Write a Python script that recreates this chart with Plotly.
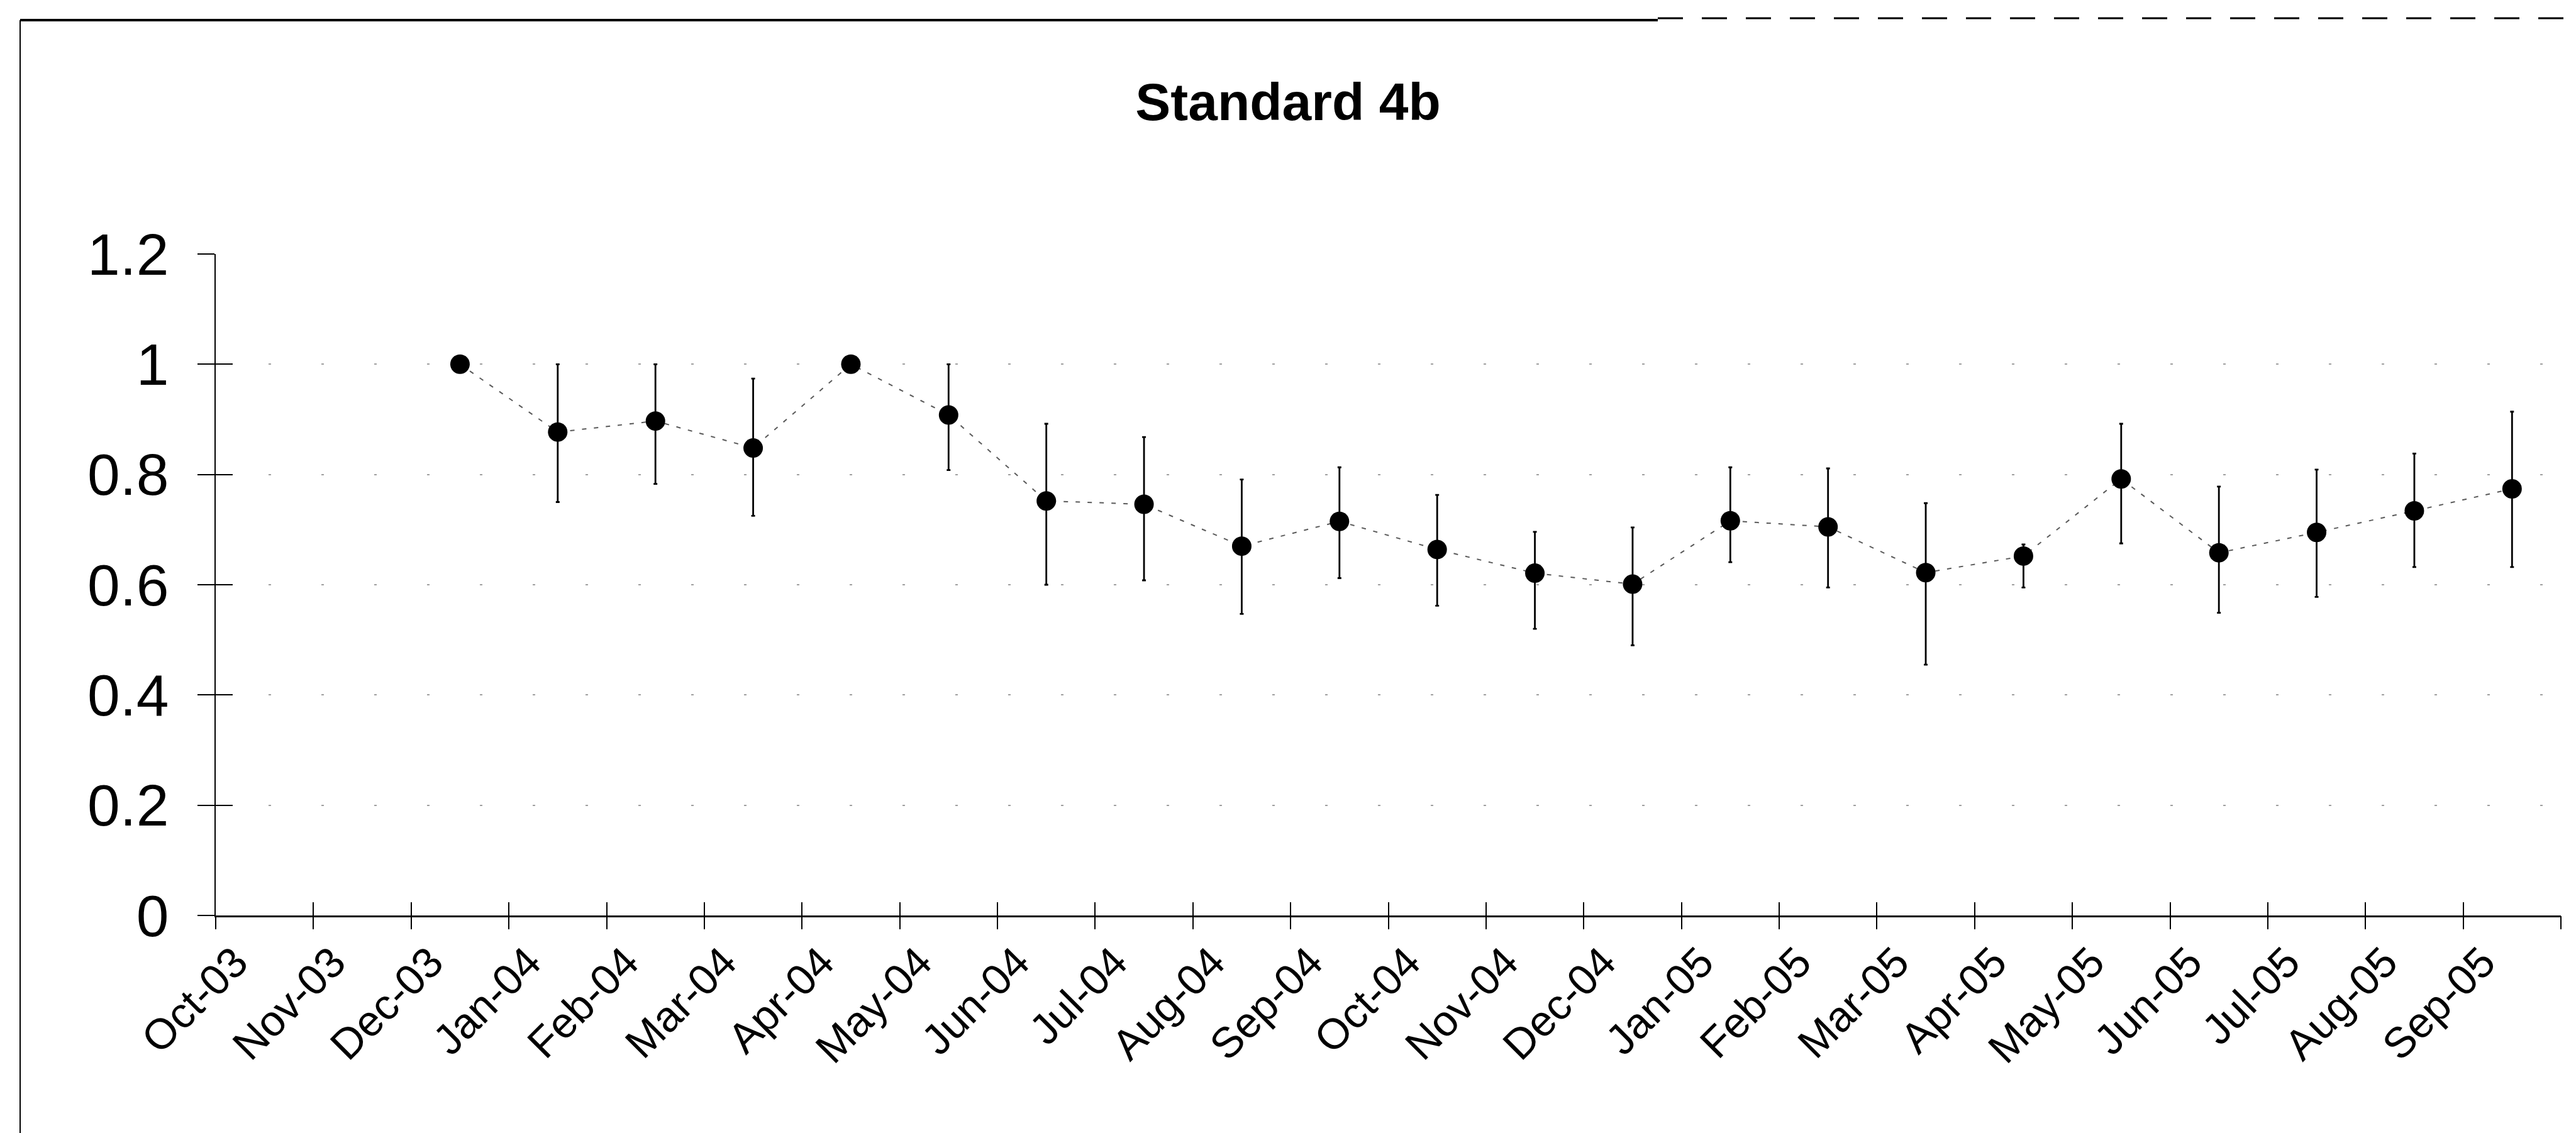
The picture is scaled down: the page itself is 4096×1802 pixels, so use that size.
import plotly.graph_objects as go

# Month categories on the x axis (tick marks sit on the month boundaries)
months = ["Oct-03", "Nov-03", "Dec-03", "Jan-04", "Feb-04", "Mar-04", "Apr-04",
          "May-04", "Jun-04", "Jul-04", "Aug-04", "Sep-04", "Oct-04", "Nov-04",
          "Dec-04", "Jan-05", "Feb-05", "Mar-05", "Apr-05", "May-05", "Jun-05",
          "Jul-05", "Aug-05", "Sep-05"]

# Months with a measurement
sample_months = ["Dec-03", "Jan-04", "Feb-04", "Mar-04", "Apr-04", "May-04",
                 "Jun-04", "Jul-04", "Aug-04", "Sep-04", "Oct-04", "Nov-04",
                 "Dec-04", "Jan-05", "Feb-05", "Mar-05", "Apr-05", "May-05",
                 "Jun-05", "Jul-05", "Aug-05", "Sep-05"]

# Monthly compliance rate with its upper / lower interval bounds
rate = [1.00, 0.877, 0.897, 0.848, 1.00, 0.908, 0.752, 0.746, 0.670, 0.715,
        0.664, 0.621, 0.601, 0.716, 0.705, 0.622, 0.652, 0.792, 0.658, 0.695,
        0.734, 0.774]
upper = [1.00, 1.00, 1.00, 0.974, 1.00, 1.00, 0.892, 0.868, 0.791, 0.813,
         0.763, 0.696, 0.704, 0.813, 0.811, 0.748, 0.673, 0.892, 0.778, 0.809,
         0.838, 0.914]
lower = [1.00, 0.75, 0.783, 0.725, 1.00, 0.808, 0.600, 0.608, 0.547, 0.612,
         0.562, 0.520, 0.490, 0.641, 0.595, 0.455, 0.595, 0.675, 0.549, 0.578,
         0.632, 0.632]

y_ticks = [0, 0.2, 0.4, 0.6, 0.8, 1.0, 1.2]

# Page geometry (pixels)
W, H = 4096, 1802
ML, MR, MT, MB = 343, 24, 404, 346
PW, PH = W - ML - MR, H - MT - MB

FONT = "Liberation Sans, Arial, sans-serif"

n = len(months)
# points sit in the middle of their month; labels lean on the month start
x_pos = [months.index(m) + 0.5 for m in sample_months]
err_plus = [u - v for u, v in zip(upper, rate)]
err_minus = [v - lo for v, lo in zip(rate, lower)]

fig = go.Figure()
fig.add_trace(go.Scatter(
    x=x_pos, y=rate,
    mode="lines+markers",
    line=dict(color="#5a5a5a", width=2, dash="7px,12px"),
    marker=dict(size=31, color="black"),
    error_y=dict(type="data", symmetric=False, array=err_plus,
                 arrayminus=err_minus, color="black", thickness=2.8, width=3),
    cliponaxis=False,
    showlegend=False,
))

# empty carriers so the overlay axes (crossing tick marks) get drawn
for xa, ya in (("x2", "y"), ("x3", "y"), ("x", "y2")):
    fig.add_trace(go.Scatter(x=[0, n], y=[0, 0], xaxis=xa, yaxis=ya,
                             mode="markers", marker=dict(opacity=0),
                             hoverinfo="skip", showlegend=False))


def px_to_paper_x(px):
    return (px - ML) / PW


def px_to_paper_y(py):
    return (H - MB - py) / PH


# outer chart frame: top and left edges
frame_top = 32
frame_left = 32
shapes = [
    dict(type="line", xref="paper", yref="paper",
         x0=px_to_paper_x(frame_left), x1=px_to_paper_x(2636),
         y0=px_to_paper_y(frame_top), y1=px_to_paper_y(frame_top),
         line=dict(color="black", width=4)),
    dict(type="line", xref="paper", yref="paper",
         x0=px_to_paper_x(2636), x1=px_to_paper_x(W),
         y0=px_to_paper_y(frame_top - 3), y1=px_to_paper_y(frame_top - 3),
         line=dict(color="black", width=3, dash="40px,30px")),
    dict(type="line", xref="paper", yref="paper",
         x0=px_to_paper_x(frame_left), x1=px_to_paper_x(frame_left),
         y0=px_to_paper_y(frame_top), y1=px_to_paper_y(H),
         line=dict(color="black", width=2)),
]

tick_axis = dict(range=[0, n], tickmode="linear", tick0=0, dtick=1,
                 ticklen=21, tickwidth=2, tickcolor="black",
                 showticklabels=False, showline=False, showgrid=False,
                 zeroline=False)

fig.update_layout(
    width=W, height=H,
    margin=dict(l=ML, r=MR, t=MT, b=MB),
    paper_bgcolor="white", plot_bgcolor="white",
    title=dict(text="<b>Standard 4b</b>", x=0.5, xanchor="center",
               y=1 - 162 / H, yanchor="middle", yref="container",
               font=dict(family=FONT, size=84, color="black")),
    shapes=shapes,
    xaxis=dict(range=[0, n], tickmode="array",
               tickvals=[i + 0.2 for i in range(n)], ticktext=months,
               tickangle=-45, ticks="", showline=True, linecolor="black",
               linewidth=3, showgrid=False, zeroline=False,
               tickfont=dict(family=FONT, size=68, color="black"),
               ticklabelstandoff=4),
    xaxis2=dict(overlaying="x", anchor="y", ticks="outside", **tick_axis),
    xaxis3=dict(overlaying="x", anchor="y", ticks="inside", **tick_axis),
    yaxis=dict(range=[0, 1.2], tickmode="array", tickvals=y_ticks,
               ticktext=[f"{v:g}" for v in y_ticks],
               ticks="outside", ticklen=27, tickwidth=2, tickcolor="black",
               showline=True, linecolor="black", linewidth=2,
               showgrid=True, gridcolor="#a0a0a0", gridwidth=2,
               griddash="4px,80px", zeroline=False,
               tickfont=dict(family=FONT, size=93, color="black"),
               ticklabelstandoff=27),
    yaxis2=dict(overlaying="y", anchor="x", range=[0, 1.2], tickmode="array",
                tickvals=y_ticks, ticks="inside", ticklen=27, tickwidth=2,
                tickcolor="black", showticklabels=False, showline=False,
                showgrid=False, zeroline=False),
)

fig.write_html("out.html")
